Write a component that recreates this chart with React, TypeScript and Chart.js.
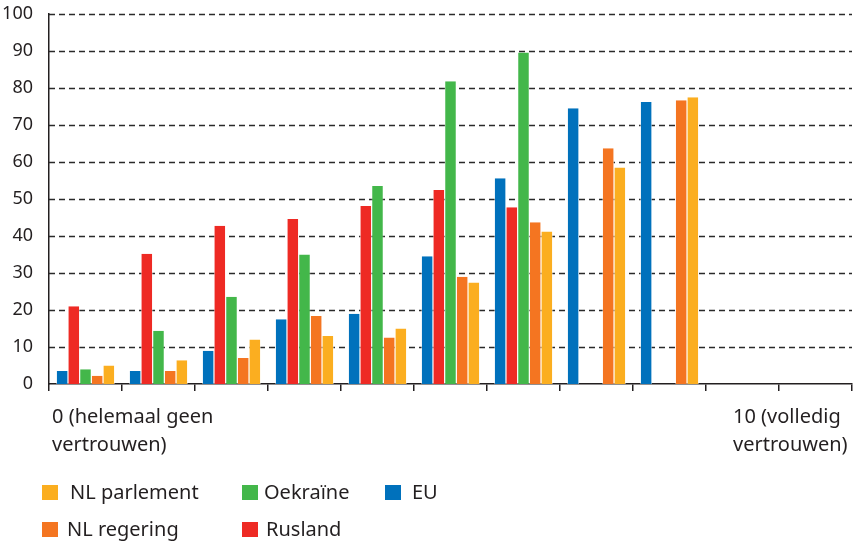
import React, { useEffect, useRef } from "react";
import { Chart, registerables } from "chart.js";

Chart.register(...registerables);

const categories = ["0", "1", "2", "3", "4", "5", "6", "7", "8", "9", "10"];
const euValues = [3.5, 3.5, 9, 17.5, 19, 34.5, 55.6, 74.5, 76.2, null, null];
const ruslandValues = [21, 35.2, 42.8, 44.6, 48.1, 52.4, 47.8, null, null, null, null];
const oekraineValues = [4, 14.4, 23.6, 35, 53.5, 81.8, 89.6, null, null, null, null];
const nlRegeringValues = [2.2, 3.5, 7, 18.4, 12.6, 29, 43.7, 63.7, 76.7, null, null];
const nlParlementValues = [5, 6.4, 12, 13, 15, 27.4, 41.2, 58.5, 77.5, null, null];
const yTicks = [0, 10, 20, 30, 40, 50, 60, 70, 80, 90, 100];
const xEndLabels = [["0 (helemaal geen", "vertrouwen)"], ["10 (volledig", "vertrouwen)"]];

const seriesNames = ["EU", "Rusland", "Oekraïne", "NL regering", "NL parlement"];
const seriesColors = ["#0071BC", "#EE2A24", "#43B74A", "#F47521", "#FBAE20"];

const FONT = "'Noto Sans', 'Open Sans', sans-serif";
const TEXT = "#231f20";

const legendRows = [
  [
    { name: "NL parlement", color: "#FBAE20", x: 42, tx: 70 },
    { name: "Oekraïne", color: "#43B74A", x: 242, tx: 264 },
    { name: "EU", color: "#0071BC", x: 385, tx: 412 },
  ],
  [
    { name: "NL regering", color: "#F47521", x: 42, tx: 67 },
    { name: "Rusland", color: "#EE2A24", x: 242, tx: 266 },
  ],
];

const dashedGridPlugin = {
  id: "dashedGrid",
  beforeDatasetsDraw(chart: any) {
    const ctx = chart.ctx;
    const area = chart.chartArea;
    const ys = chart.scales.y;
    ctx.save();
    ctx.strokeStyle = "#2a2a2a";
    ctx.lineWidth = 1.3;
    ctx.setLineDash([6, 4]);
    yTicks.forEach((v) => {
      if (v === 0) return;
      const y = Math.round(ys.getPixelForValue(v)) + 0.5;
      ctx.beginPath();
      ctx.moveTo(area.left, y);
      ctx.lineTo(area.right, y);
      ctx.stroke();
    });
    ctx.restore();
  },
};

const endLabelsPlugin = {
  id: "endLabels",
  afterDraw(chart: any) {
    const ctx = chart.ctx;
    const area = chart.chartArea;
    ctx.save();
    ctx.fillStyle = TEXT;
    ctx.font = `20px ${FONT}`;
    ctx.textAlign = "left";
    ctx.textBaseline = "middle";
    const xs = chart.scales.x;
    const w = xs.getPixelForValue(1) - xs.getPixelForValue(0);
    const positions = [area.left + 3, xs.getPixelForValue(10) - w / 2 - 46];
    xEndLabels.forEach((lines, i) => {
      lines.forEach((line, j) => {
        ctx.fillText(line, positions[i], area.bottom + 33 + j * 28);
      });
    });
    ctx.restore();
  },
};

export default function App() {
  const canvasRef = useRef<HTMLCanvasElement>(null);

  useEffect(() => {
    if (!canvasRef.current) return;
    const values = [euValues, ruslandValues, oekraineValues, nlRegeringValues, nlParlementValues];
    const chart = new Chart(canvasRef.current, {
      type: "bar",
      data: {
        labels: categories,
        datasets: seriesNames.map((name, i) => ({
          label: name,
          data: values[i] as any,
          backgroundColor: seriesColors[i],
          borderColor: "#ffffff",
          borderWidth: { left: 0.6, right: 0.6, top: 0, bottom: 0 },
          borderSkipped: false,
          categoryPercentage: 0.8,
          barPercentage: 1,
        })),
      },
      options: {
        responsive: false,
        animation: false,
        layout: { padding: { top: 14, right: 6, left: 0, bottom: 0 } },
        plugins: {
          legend: { display: false },
          tooltip: { enabled: false },
        },
        scales: {
          x: {
            afterFit: (scale: any) => {
              scale.height = 159;
            },
            grid: {
              display: true,
              offset: true,
              drawOnChartArea: false,
              drawTicks: true,
              tickLength: 7,
              color: "#231f20",
              lineWidth: 1.5,
            },
            border: { display: true, color: "#231f20", width: 1.5 },
            ticks: { display: true, callback: () => "", font: { size: 1 } },
          },
          y: {
            min: 0,
            max: 100,
            afterFit: (scale: any) => {
              scale.width = 49;
              scale.paddingTop = 0;
              scale.paddingBottom = 0;
            },
            afterBuildTicks: (scale: any) => {
              scale.ticks = yTicks.map((v) => ({ value: v }));
            },
            grid: {
              display: false,
            },
            border: { display: true, color: "#231f20", width: 1.5 },
            ticks: {
              color: TEXT,
              font: { family: FONT, size: 18 },
              padding: 8,
            },
          },
        },
      },
      plugins: [dashedGridPlugin, endLabelsPlugin],
    });
    return () => chart.destroy();
  }, []);

  return (
    <div style={{ position: "absolute", left: 0, top: 0, width: 858, height: 543, background: "#fff", fontFamily: FONT, color: TEXT }}>
      <canvas ref={canvasRef} width={858} height={543} style={{ position: "absolute", left: 0, top: 0 }} />
      {legendRows.map((row, r) =>
        row.map((item) => (
          <React.Fragment key={item.name}>
            <div
              style={{
                position: "absolute",
                left: item.x,
                top: (r === 0 ? 485 : 522),
                width: 16,
                height: 15,
                background: item.color,
              }}
            />
            <div
              style={{
                position: "absolute",
                left: item.tx,
                top: (r === 0 ? 492 : 529) - 14,
                fontSize: 20,
                lineHeight: "28px",
                whiteSpace: "nowrap",
              }}
            >
              {item.name}
            </div>
          </React.Fragment>
        ))
      )}
    </div>
  );
}
